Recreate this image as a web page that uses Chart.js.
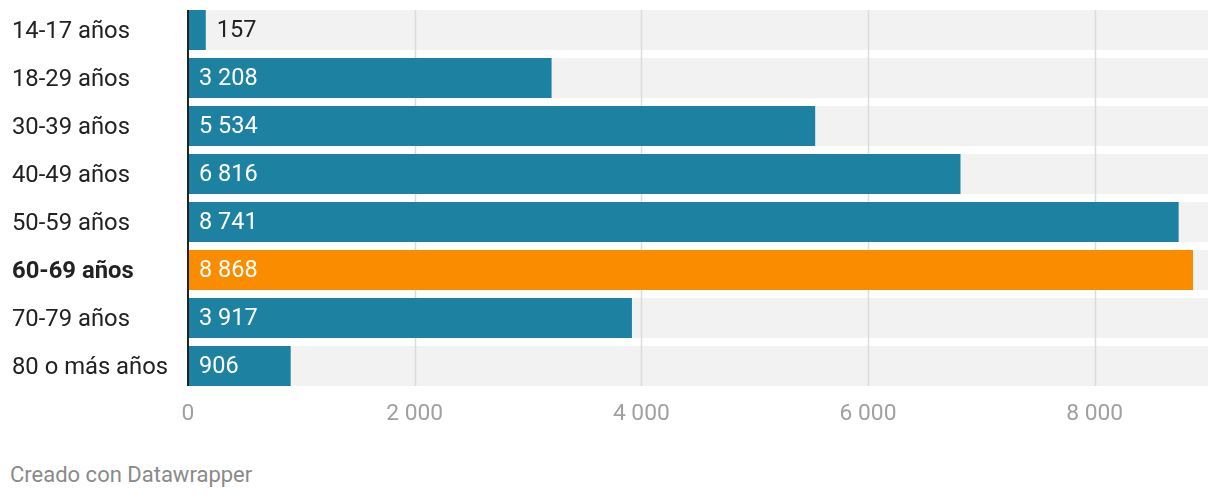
<!DOCTYPE html>
<html lang="es">
<head>
<meta charset="utf-8">
<script src="https://cdn.jsdelivr.net/npm/chart.js@4"></script>
<style>
  body { margin: 0; background: #fff; font-family: Roboto, sans-serif; }
  #wrap { position: relative; width: 1220px; height: 440px; }
  #nota { position: absolute; left: 10px; top: 462px; font-size: 22px; color: #8a8a8a; }
</style>
</head>
<body>
<div id="wrap"><canvas id="edades"></canvas></div>
<div id="nota">Creado con Datawrapper</div>
<script>
// Personas por grupo de edad
const grupos = ["14-17 años", "18-29 años", "30-39 años", "40-49 años", "50-59 años", "60-69 años", "70-79 años", "80 o más años"];
const personas = [157, 3208, 5534, 6816, 8741, 8868, 3917, 906];
const destacado = "60-69 años";
const ejeMax = 9000;
const ticksX = [0, 2000, 4000, 6000, 8000];

const azul = "#1d81a2";
const naranja = "#fa8c00";

// separador de miles con espacio
const fmt = (n) => String(n).replace(/\B(?=(\d{3})+(?!\d))/g, " ");

// líneas de la cuadrícula encima del fondo gris, debajo de las barras
const rejilla = {
  id: "rejilla",
  afterDatasetDraw(chart, args) {
    if (args.index !== 1) return;
    const ctx = chart.ctx;
    const x = chart.scales.x;
    const barras = args.meta.data;
    const top = barras[0].y - barras[0].height / 2;
    const bottom = barras[barras.length - 1].y + barras[barras.length - 1].height / 2;
    ctx.save();
    ctx.strokeStyle = "#dcdcdc";
    ctx.lineWidth = 1.5;
    ticksX.slice(1).forEach((v) => {
      const px = Math.round(x.getPixelForValue(v)) + 0.5;
      ctx.beginPath();
      ctx.moveTo(px, top);
      ctx.lineTo(px, bottom);
      ctx.stroke();
    });
    ctx.restore();
  },
  afterDatasetsDraw(chart) {
    const ctx = chart.ctx;
    const meta = chart.getDatasetMeta(0);
    const fondo = chart.getDatasetMeta(1).data;
    const top = fondo[0].y - fondo[0].height / 2;
    const bottom = fondo[fondo.length - 1].y + fondo[fondo.length - 1].height / 2;
    ctx.save();
    // etiquetas de valores
    ctx.font = "23.5px Roboto";
    ctx.textBaseline = "middle";
    ctx.textAlign = "left";
    meta.data.forEach((bar, i) => {
      const texto = fmt(personas[i]);
      const w = ctx.measureText(texto).width;
      if (bar.x - bar.base > w + 22) {
        ctx.fillStyle = "#fff";
        ctx.fillText(texto, bar.base + 11, bar.y + 1);
      } else {
        ctx.fillStyle = "#222";
        ctx.fillText(texto, bar.x + 11, bar.y + 1);
      }
    });
    // eje vertical
    const x0 = chart.scales.x.getPixelForValue(0);
    ctx.strokeStyle = "#222";
    ctx.lineWidth = 2;
    ctx.beginPath();
    ctx.moveTo(x0, top);
    ctx.lineTo(x0, bottom);
    ctx.stroke();
    ctx.restore();
  },
};

new Chart(document.getElementById("edades"), {
  type: "bar",
  data: {
    labels: grupos,
    datasets: [
      {
        data: personas,
        backgroundColor: grupos.map((g) => (g === destacado ? naranja : azul)),
        order: 0,
      },
      {
        data: grupos.map(() => ejeMax),
        backgroundColor: "#f2f2f2",
        order: 1,
      },
    ],
  },
  options: {
    indexAxis: "y",
    responsive: true,
    maintainAspectRatio: false,
    animation: false,
    events: [],
    datasets: {
      bar: { grouped: false, categoryPercentage: 1, barPercentage: 40 / 48 },
    },
    layout: { padding: { left: 12, right: 12, top: 6, bottom: 0 } },
    scales: {
      x: {
        min: 0,
        max: ejeMax,
        grid: { display: false, drawTicks: false },
        border: { display: false },
        afterFit: (s) => { s.height = 50; s.paddingLeft = 0; s.paddingRight = 0; },
        afterBuildTicks: (s) => { s.ticks = ticksX.map((v) => ({ value: v })); },
        ticks: {
          padding: 11,
          color: "#a0a0a0",
          font: { family: "Roboto", size: 22.8 },
          callback: (v) => fmt(v),
        },
      },
      y: {
        grid: { display: false, drawTicks: false },
        border: { display: false },
        afterFit: (s) => { s.width = 176; s.paddingTop = 0; s.paddingBottom = 0; },
        ticks: {
          crossAlign: "far",
          labelOffset: 2,
          color: "#222",
          font: (c) => ({ family: "Roboto", size: 23.8, weight: grupos[c.index] === destacado ? "bold" : "normal" }),
        },
      },
    },
    plugins: {
      legend: { display: false },
      tooltip: { enabled: false },
    },
  },
  plugins: [rejilla],
});
</script>
</body>
</html>
